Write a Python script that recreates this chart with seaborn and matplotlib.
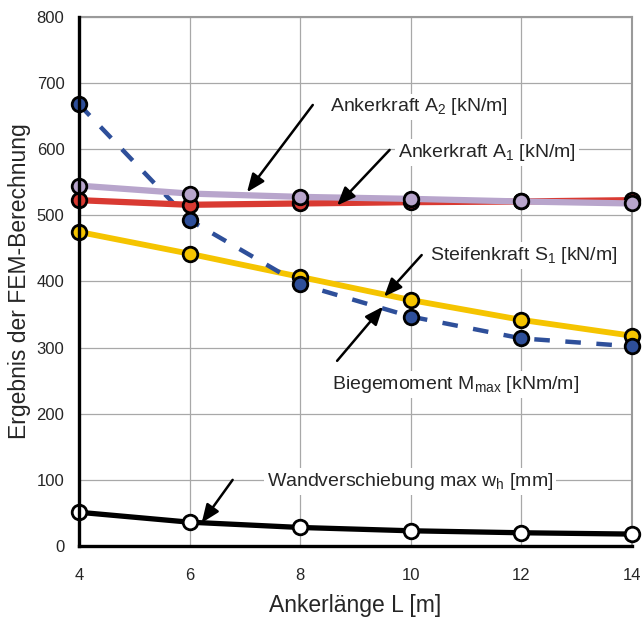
import numpy as np
import pandas as pd
import matplotlib
matplotlib.use("Agg")
import matplotlib.pyplot as plt
import seaborn as sns
from matplotlib.ticker import MultipleLocator

# Ankerlänge L [m]
laenge = [4, 6, 8, 10, 12, 14]

# FEM results
biegemoment = [668, 493, 396, 347, 314, 302]   # M_max [kNm/m]
steifenkraft = [475, 442, 407, 372, 342, 318]  # S1 [kN/m]
anker_a1 = [523, 516, 518, 520, 521, 523]      # A1 [kN/m]
anker_a2 = [545, 533, 528, 525, 521, 518]      # A2 [kN/m]
wand_wh = [51, 36, 28, 23, 20, 18]             # max w_h [mm]

sns.set_style("white")
plt.rcParams["font.family"] = ["Liberation Sans", "DejaVu Sans"]
plt.rcParams["mathtext.fontset"] = "custom"
plt.rcParams["mathtext.rm"] = "Liberation Sans"
plt.rcParams["mathtext.it"] = "Liberation Sans"

fig = plt.figure(figsize=(6.42, 6.21), dpi=100)
ax = fig.add_axes([0.123, 0.1208, 0.861, 0.8518])

grid_c = "#a8a8a8"
for x in [6, 8, 10, 12]:
    ax.axvline(x, color=grid_c, lw=0.9, zorder=0)
for y in range(100, 900, 100):
    ax.axhline(y, color=grid_c, lw=0.9, zorder=0)

mk = dict(marker="o", markersize=10.5, markeredgecolor="black",
          markeredgewidth=2.0, clip_on=False)

sns.lineplot(x=laenge, y=steifenkraft, ax=ax, color="#f5c400", lw=4.2,
             markerfacecolor="#f5c400", zorder=3, **mk)
sns.lineplot(x=laenge, y=biegemoment, ax=ax, color="#2e4f9a", lw=3.2,
             linestyle=(0, (3.5, 3.5)), markerfacecolor="#2e4f9a", zorder=4, **mk)
sns.lineplot(x=laenge, y=anker_a1, ax=ax, color="#d93a32", lw=4.5,
             markerfacecolor="#d93a32", zorder=5, **mk)
sns.lineplot(x=laenge, y=anker_a2, ax=ax, color="#b8a5cc", lw=4.5,
             markerfacecolor="#b8a5cc", zorder=6, **mk)
sns.lineplot(x=laenge, y=wand_wh, ax=ax, color="black", lw=3.8,
             markerfacecolor="white", zorder=6, **mk)

ax.set_xlim(4, 14)
ax.set_ylim(0, 800)
ax.xaxis.set_major_locator(MultipleLocator(2))
ax.xaxis.set_minor_locator(MultipleLocator(1))
ax.yaxis.set_major_locator(MultipleLocator(100))
ax.yaxis.set_minor_locator(MultipleLocator(50))
ax.tick_params(axis="both", which="major", direction="out", length=4.5,
               width=2.2, labelsize=12, color="black")
ax.tick_params(axis="both", which="minor", direction="in", length=3.5,
               width=2.0, color="black")
ax.tick_params(axis="x", which="major", pad=11)
ax.tick_params(axis="y", which="major", pad=6)

for s in ["left", "bottom"]:
    ax.spines[s].set_color("black")
    ax.spines[s].set_linewidth(2.4)
    ax.spines[s].set_zorder(7)
for s in ["top", "right"]:
    ax.spines[s].set_color("#9a9a9a")
    ax.spines[s].set_linewidth(1.5)

ax.set_xlabel("Ankerlänge L [m]", fontsize=16.5, labelpad=8)
ax.set_ylabel("Ergebnis der FEM-Berechnung", fontsize=16.5, labelpad=4)

box = dict(boxstyle="square,pad=0.15", fc="white", ec="none")
arrow = dict(arrowstyle="-|>,head_length=1.1,head_width=0.45",
             color="black", lw=1.8, shrinkA=0, shrinkB=0)
annot = [
    ("Ankerkraft A$_2$ [kN/m]", (7.04, 535), (8.23, 667), (8.54, 664)),
    ("Ankerkraft A$_1$ [kN/m]", (8.67, 515), (9.62, 599), (9.77, 595)),
    ("Steifenkraft S$_1$ [kN/m]", (9.52, 377), (10.2, 440), (10.35, 439)),
    ("Biegemoment M$_{\\mathrm{max}}$ [kNm/m]", (9.5, 362), (8.67, 280), (8.57, 244)),
    ("Wandverschiebung max w$_{\\mathrm{h}}$ [mm]", (6.22, 35), (6.78, 100), (7.40, 97)),
]
for txt, tip, tail, pos in annot:
    ax.annotate("", xy=tip, xytext=tail, arrowprops=arrow, zorder=8)
    ax.text(pos[0], pos[1], txt, fontsize=14, va="center", ha="left",
            bbox=box, zorder=2)

fig.savefig("out.png", dpi=100)
